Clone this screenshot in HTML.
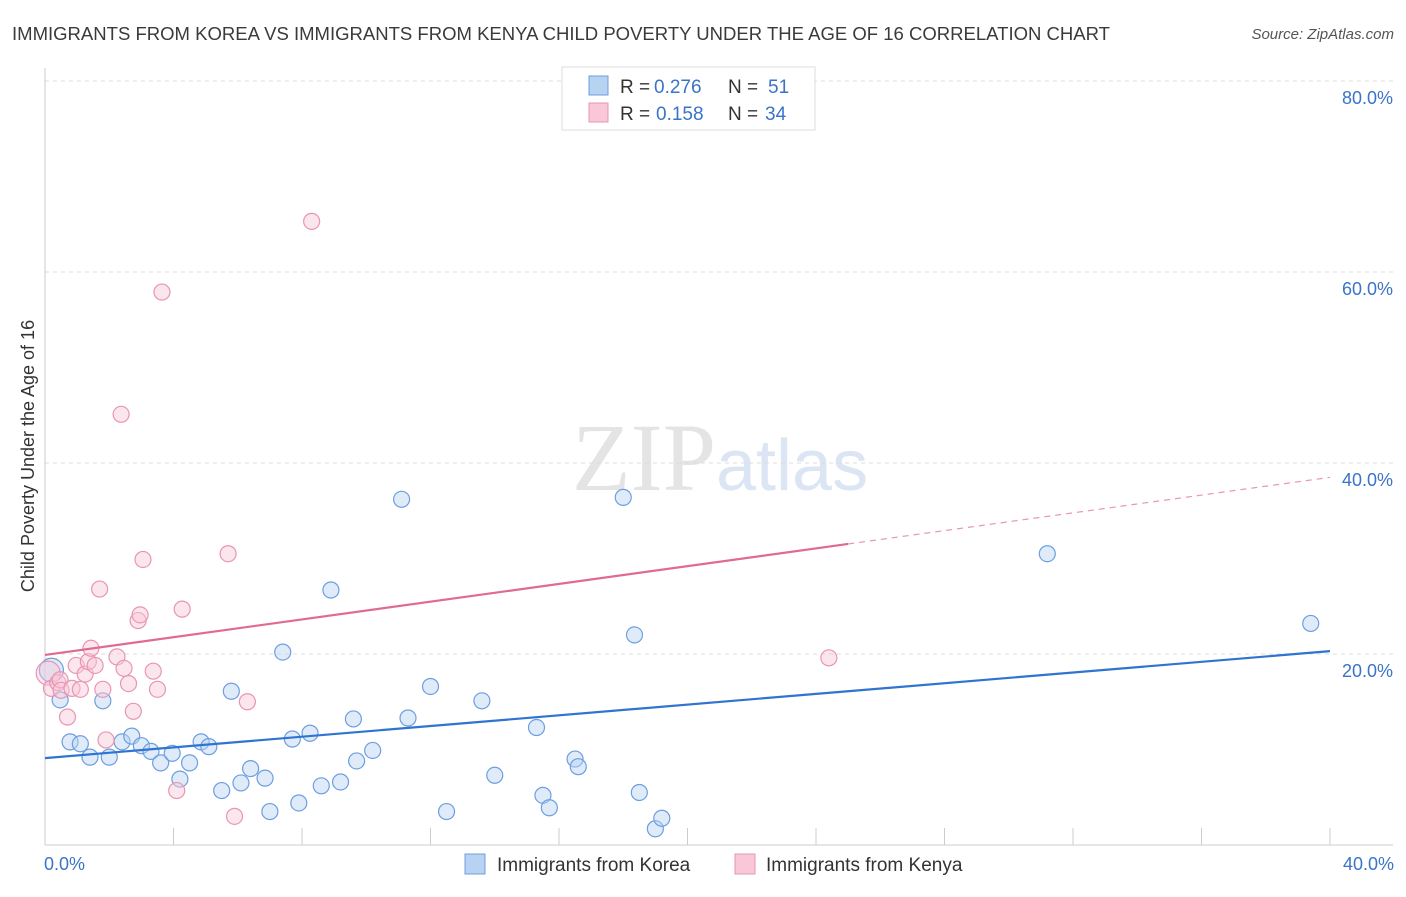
<!DOCTYPE html>
<html><head><meta charset="utf-8"><style>
body{margin:0;background:#fff;font-family:"Liberation Sans",sans-serif;}
svg text{font-family:"Liberation Sans",sans-serif;}
</style></head><body>
<svg id="c" width="1406" height="892" xmlns="http://www.w3.org/2000/svg">
<text x="12" y="40" font-size="18" fill="#3a3a3a" textLength="1098" lengthAdjust="spacingAndGlyphs">IMMIGRANTS FROM KOREA VS IMMIGRANTS FROM KENYA CHILD POVERTY UNDER THE AGE OF 16 CORRELATION CHART</text>
<text x="1394" y="39" font-size="15" fill="#555" text-anchor="end" font-style="italic">Source: ZipAtlas.com</text>
<text x="716" y="490" font-size="96" fill="#e4e4e4" text-anchor="end" style="font-family:'Liberation Serif',serif">ZIP</text>
<text x="716" y="490" font-size="72" fill="#dbe5f3">atlas</text>
<g id="grid"></g><g id="axes"></g><g id="marks"></g>
<text transform="translate(34,456) rotate(-90)" font-size="18" fill="#333" text-anchor="middle">Child Poverty Under the Age of 16</text>
<g>
<rect x="562" y="67" width="253" height="63" fill="#fff" stroke="#ddd"/>
<rect x="589" y="76" width="19" height="19" fill="#b8d2f2" stroke="#6d9ee0"/>
<rect x="589" y="103" width="19" height="19" fill="#f9c8d8" stroke="#e895b2"/>
<text x="620" y="93" font-size="19" fill="#333">R =</text>
<text x="654" y="93" font-size="19" fill="#3a73c8">0.276</text>
<text x="728" y="93" font-size="19" fill="#333">N =</text>
<text x="768" y="93" font-size="19" fill="#3a73c8">51</text>
<text x="620" y="120" font-size="19" fill="#333">R =</text>
<text x="656" y="120" font-size="19" fill="#3a73c8">0.158</text>
<text x="728" y="120" font-size="19" fill="#333">N =</text>
<text x="765" y="120" font-size="19" fill="#3a73c8">34</text>
</g>
<g>
<rect x="465" y="854" width="20" height="20" fill="#b8d2f2" stroke="#6d9ee0"/>
<text x="497" y="871" font-size="19" fill="#333">Immigrants from Korea</text>
<rect x="735" y="854" width="20" height="20" fill="#f9c8d8" stroke="#e895b2"/>
<text x="766" y="871" font-size="19" fill="#333">Immigrants from Kenya</text>
</g>
</svg>
<script>
const yTicks=[20,40,60,80];
const yTickLabels=["20.0%","40.0%","60.0%","80.0%"];
const xTickLabels=["0.0%","40.0%"];
const koreaX=[0.2,0.47,0.78,1.1,1.4,1.8,2.0,2.4,2.7,3.0,3.3,3.6,3.96,4.2,4.5,4.86,5.1,5.5,5.8,6.1,6.4,6.85,7.0,7.4,7.7,7.9,8.25,8.6,8.9,9.2,9.6,9.7,10.2,11.1,11.3,12.0,12.5,13.6,14.0,15.3,15.5,15.7,16.5,16.6,18.0,18.35,18.5,19.0,19.2,31.2,39.4];
const koreaY=[18.3,15.2,10.8,10.6,9.2,15.1,9.2,10.8,11.4,10.4,9.8,8.6,9.6,6.9,8.6,10.8,10.3,5.7,16.1,6.5,8.0,7.0,3.5,20.2,11.1,4.4,11.7,6.2,26.7,6.6,13.2,8.8,9.9,36.2,13.3,16.6,3.5,15.1,7.3,12.3,5.2,3.9,9.0,8.2,36.4,22.0,5.5,1.7,2.8,30.5,23.2];
const kenyaX=[0.1,0.2,0.4,0.47,0.5,0.7,0.84,0.97,1.1,1.25,1.35,1.43,1.56,1.7,1.8,1.9,2.24,2.37,2.46,2.6,2.75,2.9,2.96,3.05,3.37,3.5,3.64,4.1,4.27,5.7,5.9,6.3,8.3,24.4];
const kenyaY=[18.0,16.4,17.0,17.3,16.2,13.4,16.4,18.8,16.3,17.9,19.2,20.6,18.8,26.8,16.3,11.0,19.7,45.1,18.5,16.9,14.0,23.5,24.1,29.9,18.2,16.3,57.9,5.7,24.7,30.5,3.0,15.0,65.3,19.6];
const koreaTrend=[9.1,20.3];
const kenyaTrend=[19.9,38.5];
const X=v=>45+v*1285/40, Y=v=>845-v*9.55;
const NS="http://www.w3.org/2000/svg";
function mk(p,t,a){const e=document.createElementNS(NS,t);for(const k in a)e.setAttribute(k,a[k]);p.appendChild(e);return e;}
const grid=document.getElementById('grid'),axes=document.getElementById('axes'),marks=document.getElementById('marks');
yTicks.forEach((t,i)=>{
 const l=mk(grid,'line',{x1:45,x2:1393,y1:Y(t),y2:Y(t),stroke:'#ddd','stroke-dasharray':'4,4'});
 
 
 const tx=mk(axes,'text',{x:1393,y:Y(t)+23,'font-size':18,fill:'#3a73c8','text-anchor':'end'});tx.textContent=yTickLabels[i];
 
 
});
const ax=mk(axes,'line',{x1:45,x2:45,y1:68,y2:845,stroke:'#ccc'});


const bx=mk(axes,'line',{x1:45,x2:1393,y1:845,y2:845,stroke:'#ccc'});


for(let i=0;i<=10;i++){const t=mk(axes,'line',{x1:X(i*4),x2:X(i*4),y1:828,y2:845,stroke:'#ccc'});
 
 }
[[0,'start',44],[40,'end',1394]].forEach((d,i)=>{const t=mk(axes,'text',{x:d[2],y:870,'font-size':18,fill:'#3a73c8','text-anchor':d[1]});t.textContent=xTickLabels[i];
 
 });
function dots(xs,ys,fill,stroke,name){xs.forEach((x,i)=>{const r=i==0?12:8;const c=mk(marks,'circle',{cx:X(x),cy:Y(ys[i]),r:r,fill:fill,'fill-opacity':0.45,stroke:stroke,'stroke-width':1.2});
 
 });}
dots(koreaX,koreaY,'#b8d2f2','#6d9ee0','korea-point');
dots(kenyaX,kenyaY,'#f9c8d8','#e895b2','kenya-point');
const kl=mk(marks,'line',{x1:X(0),y1:Y(koreaTrend[0]),x2:X(40),y2:Y(koreaTrend[1]),stroke:'#2f74d0','stroke-width':2.2});


const sl=(kenyaTrend[1]-kenyaTrend[0])/40, k25=kenyaTrend[0]+sl*25;
const pl=mk(marks,'line',{x1:X(0),y1:Y(kenyaTrend[0]),x2:X(25),y2:Y(k25),stroke:'#e06a94','stroke-width':2.2});


const pd=mk(marks,'line',{x1:X(25),y1:Y(k25),x2:X(40),y2:Y(kenyaTrend[1]),stroke:'#e895b2','stroke-width':1.2,'stroke-dasharray':'6,5'});


</script>
</body></html>
